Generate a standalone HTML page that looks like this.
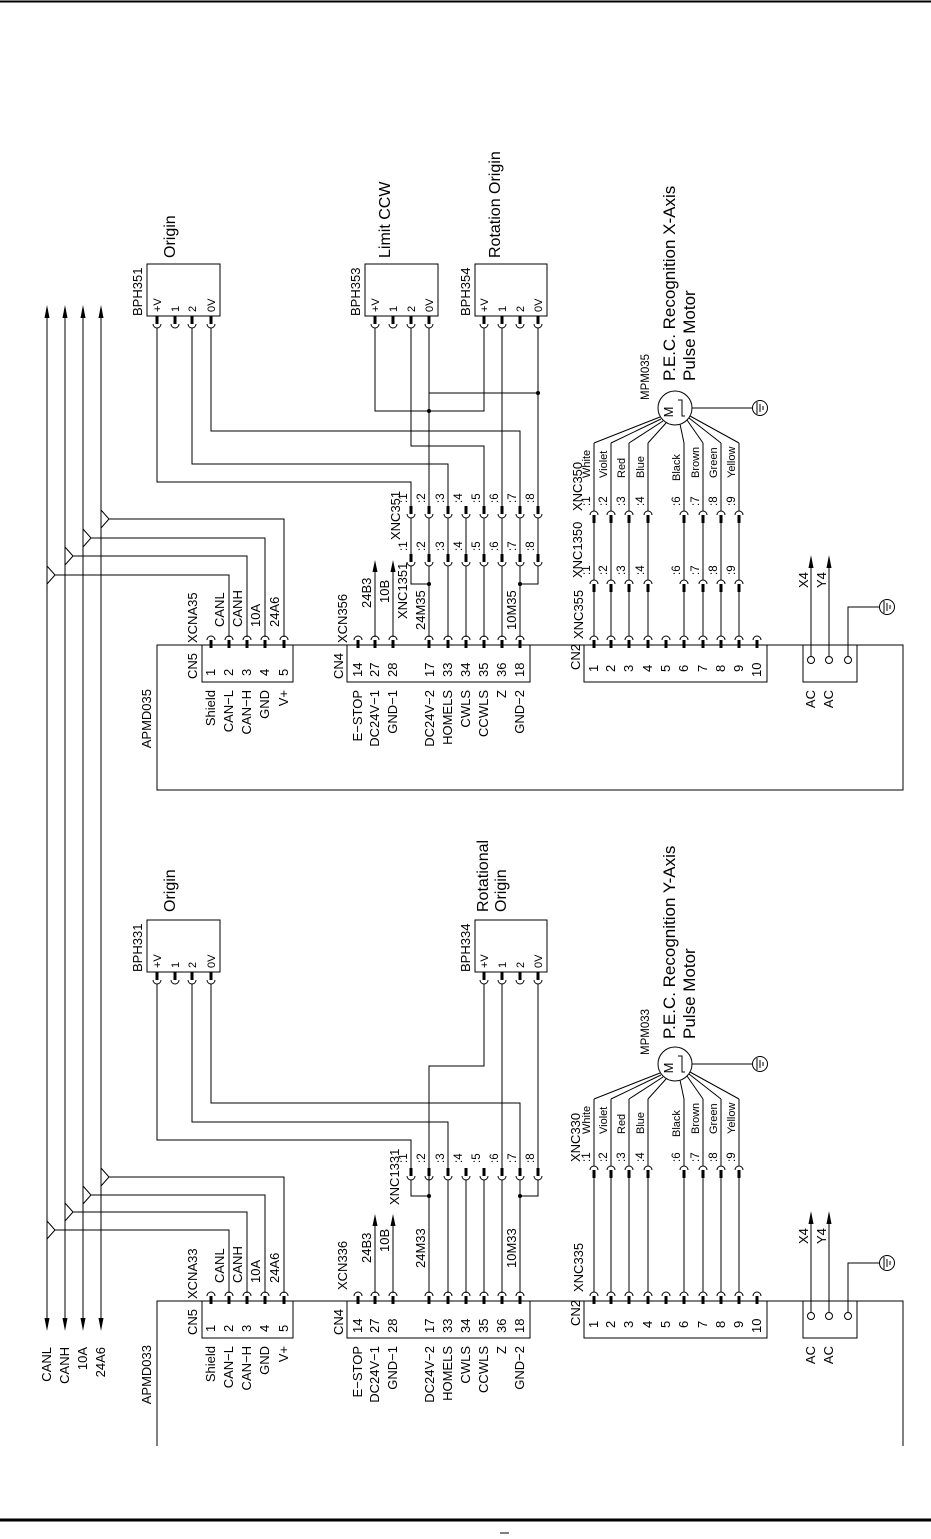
<!DOCTYPE html>
<html><head><meta charset="utf-8"><style>
html,body{margin:0;padding:0;background:#fff;}
svg{display:block;}
text{font-family:"Liberation Sans",sans-serif;fill:#000;}
.s{font-size:11.5px;}
.m{font-size:13px;}
.w{font-size:11px;}
.b{font-size:16px;}
.t{font-size:17px;}
.ln{stroke:#000;stroke-width:1;fill:none;}
.g{stroke:#555;stroke-width:1;fill:none;}
.bx{stroke:#000;stroke-width:1;fill:none;}
</style></head><body>
<svg width="931" height="1539" viewBox="0 0 931 1539" xmlns="http://www.w3.org/2000/svg">
<defs>
<g id="pu"><path d="M-4 0 A4 4 0 0 1 4 0" stroke="#000" fill="none" stroke-width="1"/><line x1="0" y1="0" x2="0" y2="8" stroke="#000" stroke-width="3"/></g>
<g id="pd"><path d="M-4 0 A4 4 0 0 0 4 0" stroke="#000" fill="none" stroke-width="1"/><line x1="0" y1="0" x2="0" y2="-8" stroke="#000" stroke-width="3"/></g>
<g id="gnd"><circle cx="0" cy="0" r="7.5" fill="#fff" stroke="#000"/><line x1="-3" y1="-6" x2="-3" y2="6" stroke="#000"/><line x1="0" y1="-4" x2="0" y2="4" stroke="#000"/><line x1="3" y1="-2" x2="3" y2="2" stroke="#000"/></g>
<g id="mot"><circle cx="0" cy="0" r="17" fill="#fff" stroke="#000"/><text class="m" transform="rotate(-90 -2 4)" x="-2" y="4" text-anchor="middle">M</text><path d="M3 -8 H7 V8 H10" class="ln"/></g>
</defs>

<line x1="0" y1="1.5" x2="931" y2="1.5" stroke="#000" stroke-width="2"/>
<line x1="0" y1="1520" x2="931" y2="1520" stroke="#000" stroke-width="3"/>
<line x1="500" y1="1533" x2="509" y2="1533" stroke="#000" stroke-width="1"/>

<g class="ln">
<path d="M47 310 V1326 M65 310 V1326 M83 310 V1326 M101 310 V1326"/>
<path d="M47 566 L55 575 L47 584 M55 575 H229 V637"/>
<path d="M65 547 L73 556 L65 565 M73 556 H247 V637"/>
<path d="M83 529 L91 538 L83 547 M91 538 H265 V637"/>
<path d="M101 510 L109 519 L101 528 M109 519 H284 V637"/>
<path d="M47 1221 L55 1230 L47 1239 M55 1230 H229 V1293"/>
<path d="M65 1203 L73 1212 L65 1221 M73 1212 H247 V1293"/>
<path d="M83 1186 L91 1195 L83 1204 M91 1195 H265 V1293"/>
<path d="M101 1168 L109 1177 L101 1186 M109 1177 H284 V1293"/>
</g>
<g fill="#000">
<polygon points="44.5,318 47,305 49.5,318"/><polygon points="62.5,318 65,305 67.5,318"/><polygon points="80.5,318 83,305 85.5,318"/><polygon points="98.5,318 101,305 103.5,318"/>
<polygon points="44.5,1318 47,1331 49.5,1318"/><polygon points="62.5,1318 65,1331 67.5,1318"/><polygon points="80.5,1318 83,1331 85.5,1318"/><polygon points="98.5,1318 101,1331 103.5,1318"/>
</g>
<text class="m" transform="rotate(-90 51 1347)" x="51" y="1347" text-anchor="end">CANL</text>
<text class="m" transform="rotate(-90 69 1347)" x="69" y="1347" text-anchor="end">CANH</text>
<text class="m" transform="rotate(-90 87 1347)" x="87" y="1347" text-anchor="end">10A</text>
<text class="m" transform="rotate(-90 105 1347)" x="105" y="1347" text-anchor="end">24A6</text>

<rect class="bx" x="147" y="264" width="73" height="52"/>
<rect class="bx" x="365" y="264" width="73" height="52"/>
<rect class="bx" x="475" y="264" width="72" height="52"/>
<text class="b" transform="rotate(-90 175 258)" x="175" y="258">Origin</text>
<text class="b" transform="rotate(-90 390 258)" x="390" y="258">Limit CCW</text>
<text class="b" transform="rotate(-90 500 258)" x="500" y="258">Rotation Origin</text>
<text class="m" transform="rotate(-90 142 316)" x="142" y="316">BPH351</text>
<text class="m" transform="rotate(-90 360 316)" x="360" y="316">BPH353</text>
<text class="m" transform="rotate(-90 470 316)" x="470" y="316">BPH354</text>
<g class="w">
<text transform="rotate(-90 161 312)" x="161" y="312">+V</text><text transform="rotate(-90 179 312)" x="179" y="312">1</text><text transform="rotate(-90 196 312)" x="196" y="312">2</text><text transform="rotate(-90 215 312)" x="215" y="312">0V</text>
<text transform="rotate(-90 379 312)" x="379" y="312">+V</text><text transform="rotate(-90 397 312)" x="397" y="312">1</text><text transform="rotate(-90 415 312)" x="415" y="312">2</text><text transform="rotate(-90 433 312)" x="433" y="312">0V</text>
<text transform="rotate(-90 488 312)" x="488" y="312">+V</text><text transform="rotate(-90 506 312)" x="506" y="312">1</text><text transform="rotate(-90 524 312)" x="524" y="312">2</text><text transform="rotate(-90 542 312)" x="542" y="312">0V</text>
</g>
<g>
<use href="#pd" x="157" y="324"/><use href="#pd" x="175" y="324"/><use href="#pd" x="192" y="324"/><use href="#pd" x="211" y="324"/>
<use href="#pd" x="375" y="324"/><use href="#pd" x="393" y="324"/><use href="#pd" x="411" y="324"/><use href="#pd" x="429" y="324"/>
<use href="#pd" x="484" y="324"/><use href="#pd" x="502" y="324"/><use href="#pd" x="520" y="324"/><use href="#pd" x="538" y="324"/>
</g>
<g class="ln">
<path d="M157 328 V482 H411 V506"/>
<path d="M192 328 V464 H448 V506"/>
<path d="M211 328 V431 H520 V506"/>
<path d="M375 328 V411 H484 V328"/>
<path d="M411 328 V446 H484 V506"/>
<path d="M429 328 V506 M429 393 H538"/>
<path d="M502 328 V506 M538 328 V506"/>
<path d="M411 518 V554 M429 518 V554 M448 518 V554 M466 518 V554 M484 518 V554 M502 518 V554 M520 518 V554 M538 518 V554"/>
<path d="M411 566 V584 H429 M538 566 V584 H520"/>
<path d="M429 566 V637 M448 566 V637 M466 566 V637 M484 566 V637 M502 566 V637 M520 566 V637"/>
<path d="M375 637 V568 M393 637 V568"/>
</g>
<g fill="#000"><circle cx="429" cy="411" r="2"/><circle cx="538" cy="393" r="2"/><circle cx="429" cy="584" r="2"/><circle cx="520" cy="584" r="2"/>
<polygon points="372.5,572 375,560 377.5,572"/><polygon points="390.5,572 393,560 395.5,572"/></g>
<g>
<use href="#pd" x="411" y="514"/><use href="#pd" x="429" y="514"/><use href="#pd" x="448" y="514"/><use href="#pd" x="466" y="514"/><use href="#pd" x="484" y="514"/><use href="#pd" x="502" y="514"/><use href="#pd" x="520" y="514"/><use href="#pd" x="538" y="514"/>
<use href="#pd" x="411" y="562"/><use href="#pd" x="429" y="562"/><use href="#pd" x="448" y="562"/><use href="#pd" x="466" y="562"/><use href="#pd" x="484" y="562"/><use href="#pd" x="502" y="562"/><use href="#pd" x="520" y="562"/><use href="#pd" x="538" y="562"/>
</g>
<g class="s">
<text transform="rotate(-90 407 503)" x="407" y="503">:1</text><text transform="rotate(-90 425 503)" x="425" y="503">:2</text><text transform="rotate(-90 444 503)" x="444" y="503">:3</text><text transform="rotate(-90 462 503)" x="462" y="503">:4</text><text transform="rotate(-90 480 503)" x="480" y="503">:5</text><text transform="rotate(-90 498 503)" x="498" y="503">:6</text><text transform="rotate(-90 516 503)" x="516" y="503">:7</text><text transform="rotate(-90 534 503)" x="534" y="503">:8</text>
<text transform="rotate(-90 407 551)" x="407" y="551">:1</text><text transform="rotate(-90 425 551)" x="425" y="551">:2</text><text transform="rotate(-90 444 551)" x="444" y="551">:3</text><text transform="rotate(-90 462 551)" x="462" y="551">:4</text><text transform="rotate(-90 480 551)" x="480" y="551">:5</text><text transform="rotate(-90 498 551)" x="498" y="551">:6</text><text transform="rotate(-90 516 551)" x="516" y="551">:7</text><text transform="rotate(-90 534 551)" x="534" y="551">:8</text>
</g>
<text class="m" transform="rotate(-90 400 540)" x="400" y="540">XNC351</text>
<text class="m" transform="rotate(-90 407 619)" x="407" y="619">XNC1351</text>
<text class="m" transform="rotate(-90 371 608)" x="371" y="608">24B3</text>
<text class="m" transform="rotate(-90 389 603)" x="389" y="603">10B</text>
<text class="m" transform="rotate(-90 425 630)" x="425" y="630">24M35</text>
<text class="m" transform="rotate(-90 516 630)" x="516" y="630">10M35</text>
<text class="m" transform="rotate(-90 197 643)" x="197" y="643">XCNA35</text>
<text class="m" transform="rotate(-90 347 643)" x="347" y="643">XCN356</text>
<g class="m">
<text transform="rotate(-90 224 627)" x="224" y="627">CANL</text><text transform="rotate(-90 242 627)" x="242" y="627">CANH</text><text transform="rotate(-90 260 627)" x="260" y="627">10A</text><text transform="rotate(-90 279 627)" x="279" y="627">24A6</text>
</g>
<rect class="bx" x="157" y="645" width="746" height="145"/>
<text class="m" transform="rotate(-90 151 689)" x="151" y="689" text-anchor="end">APMD035</text>

<use href="#mot" x="675" y="408"/>
<line class="ln" x1="692" y1="408" x2="753" y2="408"/>
<use href="#gnd" x="760" y="408"/>
<text class="s" transform="rotate(-90 649 400)" x="649" y="400">MPM035</text>
<text class="t" transform="rotate(-90 675 381)" x="675" y="381">P.E.C. Recognition X-Axis</text>
<text class="t" transform="rotate(-90 695 381)" x="695" y="381">Pulse Motor</text>
<g class="ln">
<path d="M660 417 L594 443 M661 419 L611 443 M663 421 L629 443 M666 423 L648 443 M680 424 L684 443 M687 420 L703 443 M689 418 L721 443 M690 416 L739 443"/>
<path d="M594 443 V511 M611 443 V511 M629 443 V511 M648 443 V511 M684 443 V511 M703 443 V511 M721 443 V511 M739 443 V511"/>
<path d="M594 523 V580 M611 523 V580 M629 523 V580 M648 523 V580 M684 523 V580 M703 523 V580 M721 523 V580 M739 523 V580"/>
<path d="M594 592 V636 M611 592 V636 M629 592 V636 M648 592 V636 M684 592 V636 M703 592 V636 M721 592 V636 M739 592 V636"/>
</g>
<g>
<use href="#pu" x="594" y="515"/><use href="#pu" x="611" y="515"/><use href="#pu" x="629" y="515"/><use href="#pu" x="648" y="515"/><use href="#pu" x="684" y="515"/><use href="#pu" x="703" y="515"/><use href="#pu" x="721" y="515"/><use href="#pu" x="739" y="515"/>
<use href="#pu" x="594" y="584"/><use href="#pu" x="611" y="584"/><use href="#pu" x="629" y="584"/><use href="#pu" x="648" y="584"/><use href="#pu" x="684" y="584"/><use href="#pu" x="703" y="584"/><use href="#pu" x="721" y="584"/><use href="#pu" x="739" y="584"/>
</g>
<g class="w">
<text transform="rotate(-90 590 478)" x="590" y="478">White</text><text transform="rotate(-90 607 478)" x="607" y="478">Violet</text><text transform="rotate(-90 625 478)" x="625" y="478">Red</text><text transform="rotate(-90 644 478)" x="644" y="478">Blue</text><text transform="rotate(-90 680 481)" x="680" y="481">Black</text><text transform="rotate(-90 699 478)" x="699" y="478">Brown</text><text transform="rotate(-90 717 478)" x="717" y="478">Green</text><text transform="rotate(-90 735 478)" x="735" y="478">Yellow</text>
</g>
<g class="s">
<text transform="rotate(-90 590 506)" x="590" y="506">:1</text><text transform="rotate(-90 607 506)" x="607" y="506">:2</text><text transform="rotate(-90 625 506)" x="625" y="506">:3</text><text transform="rotate(-90 644 506)" x="644" y="506">:4</text><text transform="rotate(-90 680 506)" x="680" y="506">:6</text><text transform="rotate(-90 699 506)" x="699" y="506">:7</text><text transform="rotate(-90 717 506)" x="717" y="506">:8</text><text transform="rotate(-90 735 506)" x="735" y="506">:9</text>
<text transform="rotate(-90 590 575)" x="590" y="575">:1</text><text transform="rotate(-90 607 575)" x="607" y="575">:2</text><text transform="rotate(-90 625 575)" x="625" y="575">:3</text><text transform="rotate(-90 644 575)" x="644" y="575">:4</text><text transform="rotate(-90 680 575)" x="680" y="575">:6</text><text transform="rotate(-90 699 575)" x="699" y="575">:7</text><text transform="rotate(-90 717 575)" x="717" y="575">:8</text><text transform="rotate(-90 735 575)" x="735" y="575">:9</text>
</g>
<text class="m" transform="rotate(-90 582 511)" x="582" y="511">XNC350</text>
<text class="m" transform="rotate(-90 582 578)" x="582" y="578">XNC1350</text>
<text class="m" transform="rotate(-90 583 639)" x="583" y="639">XNC355</text>

<rect class="bx" x="147" y="920" width="73" height="52"/>
<rect class="bx" x="475" y="920" width="72" height="52"/>
<text class="b" transform="rotate(-90 175 912)" x="175" y="912">Origin</text>
<text class="b" transform="rotate(-90 488 912)" x="488" y="912">Rotational</text>
<text class="b" transform="rotate(-90 506 912)" x="506" y="912">Origin</text>
<text class="m" transform="rotate(-90 142 972)" x="142" y="972">BPH331</text>
<text class="m" transform="rotate(-90 470 972)" x="470" y="972">BPH334</text>
<g class="w">
<text transform="rotate(-90 161 968)" x="161" y="968">+V</text><text transform="rotate(-90 179 968)" x="179" y="968">1</text><text transform="rotate(-90 196 968)" x="196" y="968">2</text><text transform="rotate(-90 215 968)" x="215" y="968">0V</text>
<text transform="rotate(-90 488 968)" x="488" y="968">+V</text><text transform="rotate(-90 506 968)" x="506" y="968">1</text><text transform="rotate(-90 524 968)" x="524" y="968">2</text><text transform="rotate(-90 542 968)" x="542" y="968">0V</text>
</g>
<g>
<use href="#pd" x="157" y="980"/><use href="#pd" x="175" y="980"/><use href="#pd" x="192" y="980"/><use href="#pd" x="211" y="980"/>
<use href="#pd" x="484" y="980"/><use href="#pd" x="502" y="980"/><use href="#pd" x="520" y="980"/><use href="#pd" x="538" y="980"/>
</g>
<g class="ln">
<path d="M157 984 V1140 H411 V1168"/>
<path d="M192 984 V1122 H448 V1168"/>
<path d="M211 984 V1103 H520 V1168"/>
<path d="M484 984 V1066 H429 V1293"/>
<path d="M502 984 V1168 M538 984 V1168"/>
<path d="M411 1180 V1196 H429 M538 1180 V1196 H520"/>
<path d="M448 1180 V1293 M466 1180 V1293 M484 1180 V1293 M502 1180 V1293 M520 1180 V1293"/>
<path d="M375 1293 V1222 M393 1293 V1222"/>
</g>
<g fill="#000"><circle cx="429" cy="1196" r="2"/><circle cx="520" cy="1196" r="2"/>
<polygon points="372.5,1226 375,1214 377.5,1226"/><polygon points="390.5,1226 393,1214 395.5,1226"/></g>
<g>
<use href="#pd" x="411" y="1176"/><use href="#pd" x="429" y="1176"/><use href="#pd" x="448" y="1176"/><use href="#pd" x="466" y="1176"/><use href="#pd" x="484" y="1176"/><use href="#pd" x="502" y="1176"/><use href="#pd" x="520" y="1176"/><use href="#pd" x="538" y="1176"/>
</g>
<g class="s">
<text transform="rotate(-90 407 1163)" x="407" y="1163">:1</text><text transform="rotate(-90 425 1163)" x="425" y="1163">:2</text><text transform="rotate(-90 444 1163)" x="444" y="1163">:3</text><text transform="rotate(-90 462 1163)" x="462" y="1163">:4</text><text transform="rotate(-90 480 1163)" x="480" y="1163">:5</text><text transform="rotate(-90 498 1163)" x="498" y="1163">:6</text><text transform="rotate(-90 516 1163)" x="516" y="1163">:7</text><text transform="rotate(-90 534 1163)" x="534" y="1163">:8</text>
</g>
<text class="m" transform="rotate(-90 399 1205)" x="399" y="1205">XNC1331</text>
<text class="m" transform="rotate(-90 371 1263)" x="371" y="1263">24B3</text>
<text class="m" transform="rotate(-90 389 1252)" x="389" y="1252">10B</text>
<text class="m" transform="rotate(-90 425 1268)" x="425" y="1268">24M33</text>
<text class="m" transform="rotate(-90 516 1268)" x="516" y="1268">10M33</text>
<text class="m" transform="rotate(-90 197 1299)" x="197" y="1299">XCNA33</text>
<text class="m" transform="rotate(-90 347 1290)" x="347" y="1290">XCN336</text>
<g class="m">
<text transform="rotate(-90 224 1283)" x="224" y="1283">CANL</text><text transform="rotate(-90 242 1283)" x="242" y="1283">CANH</text><text transform="rotate(-90 260 1283)" x="260" y="1283">10A</text><text transform="rotate(-90 279 1283)" x="279" y="1283">24A6</text>
</g>
<path class="bx" d="M157 1446 V1301 H903 V1446"/>
<text class="m" transform="rotate(-90 151 1345)" x="151" y="1345" text-anchor="end">APMD033</text>

<use href="#mot" x="675" y="1064"/>
<line class="ln" x1="692" y1="1064" x2="753" y2="1064"/>
<use href="#gnd" x="760" y="1064"/>
<text class="s" transform="rotate(-90 649 1055)" x="649" y="1055">MPM033</text>
<text class="t" transform="rotate(-90 675 1039)" x="675" y="1039">P.E.C. Recognition Y-Axis</text>
<text class="t" transform="rotate(-90 695 1039)" x="695" y="1039">Pulse Motor</text>
<g class="ln">
<path d="M660 1073 L594 1099 M661 1075 L611 1099 M663 1077 L629 1099 M666 1079 L648 1099 M680 1080 L684 1099 M687 1076 L703 1099 M689 1074 L721 1099 M690 1072 L739 1099"/>
<path d="M594 1099 V1166 M611 1099 V1166 M629 1099 V1166 M648 1099 V1166 M684 1099 V1166 M703 1099 V1166 M721 1099 V1166 M739 1099 V1166"/>
<path d="M594 1178 V1292 M611 1178 V1292 M629 1178 V1292 M648 1178 V1292 M684 1178 V1292 M703 1178 V1292 M721 1178 V1292 M739 1178 V1292"/>
</g>
<g>
<use href="#pu" x="594" y="1170"/><use href="#pu" x="611" y="1170"/><use href="#pu" x="629" y="1170"/><use href="#pu" x="648" y="1170"/><use href="#pu" x="684" y="1170"/><use href="#pu" x="703" y="1170"/><use href="#pu" x="721" y="1170"/><use href="#pu" x="739" y="1170"/>
</g>
<g class="w">
<text transform="rotate(-90 590 1134)" x="590" y="1134">White</text><text transform="rotate(-90 607 1134)" x="607" y="1134">Violet</text><text transform="rotate(-90 625 1134)" x="625" y="1134">Red</text><text transform="rotate(-90 644 1134)" x="644" y="1134">Blue</text><text transform="rotate(-90 680 1137)" x="680" y="1137">Black</text><text transform="rotate(-90 699 1134)" x="699" y="1134">Brown</text><text transform="rotate(-90 717 1134)" x="717" y="1134">Green</text><text transform="rotate(-90 735 1134)" x="735" y="1134">Yellow</text>
</g>
<g class="s">
<text transform="rotate(-90 590 1162)" x="590" y="1162">:1</text><text transform="rotate(-90 607 1162)" x="607" y="1162">:2</text><text transform="rotate(-90 625 1162)" x="625" y="1162">:3</text><text transform="rotate(-90 644 1162)" x="644" y="1162">:4</text><text transform="rotate(-90 680 1162)" x="680" y="1162">:6</text><text transform="rotate(-90 699 1162)" x="699" y="1162">:7</text><text transform="rotate(-90 717 1162)" x="717" y="1162">:8</text><text transform="rotate(-90 735 1162)" x="735" y="1162">:9</text>
</g>
<text class="m" transform="rotate(-90 580 1162)" x="580" y="1162">XNC330</text>
<text class="m" transform="rotate(-90 583 1292)" x="583" y="1292">XNC335</text>

<g id="conn">
<rect class="bx" x="202" y="645" width="91" height="37" fill="#fff"/>
<rect class="bx" x="347" y="645" width="183" height="37" fill="#fff"/>
<rect class="bx" x="584" y="645" width="183" height="37" fill="#fff"/>
<rect class="bx" x="803" y="645" width="54" height="37" fill="#fff"/>
<use href="#pu" x="211" y="640"/><use href="#pu" x="229" y="640"/><use href="#pu" x="247" y="640"/><use href="#pu" x="265" y="640"/><use href="#pu" x="284" y="640"/>
<use href="#pu" x="358" y="640"/><use href="#pu" x="375" y="640"/><use href="#pu" x="393" y="640"/><use href="#pu" x="429" y="640"/><use href="#pu" x="448" y="640"/><use href="#pu" x="466" y="640"/><use href="#pu" x="484" y="640"/><use href="#pu" x="502" y="640"/><use href="#pu" x="520" y="640"/>
<use href="#pu" x="594" y="640"/><use href="#pu" x="611" y="640"/><use href="#pu" x="629" y="640"/><use href="#pu" x="648" y="640"/><use href="#pu" x="666" y="640"/><use href="#pu" x="684" y="640"/><use href="#pu" x="703" y="640"/><use href="#pu" x="721" y="640"/><use href="#pu" x="739" y="640"/><use href="#pu" x="757" y="640"/>
<g class="m">
<text transform="rotate(-90 197 679)" x="197" y="679">CN5</text>
<text transform="rotate(-90 215 676)" x="215" y="676">1</text><text transform="rotate(-90 233 676)" x="233" y="676">2</text><text transform="rotate(-90 251 676)" x="251" y="676">3</text><text transform="rotate(-90 269 676)" x="269" y="676">4</text><text transform="rotate(-90 288 676)" x="288" y="676">5</text>
<text transform="rotate(-90 343 679)" x="343" y="679">CN4</text>
<text transform="rotate(-90 362 677)" x="362" y="677">14</text><text transform="rotate(-90 379 677)" x="379" y="677">27</text><text transform="rotate(-90 397 677)" x="397" y="677">28</text><text transform="rotate(-90 434 677)" x="434" y="677">17</text><text transform="rotate(-90 452 677)" x="452" y="677">33</text><text transform="rotate(-90 470 677)" x="470" y="677">34</text><text transform="rotate(-90 488 677)" x="488" y="677">35</text><text transform="rotate(-90 506 677)" x="506" y="677">36</text><text transform="rotate(-90 524 677)" x="524" y="677">18</text>
<text transform="rotate(-90 580 670)" x="580" y="670">CN2</text>
<text transform="rotate(-90 598 672)" x="598" y="672">1</text><text transform="rotate(-90 615 672)" x="615" y="672">2</text><text transform="rotate(-90 633 672)" x="633" y="672">3</text><text transform="rotate(-90 652 672)" x="652" y="672">4</text><text transform="rotate(-90 670 672)" x="670" y="672">5</text><text transform="rotate(-90 688 672)" x="688" y="672">6</text><text transform="rotate(-90 707 672)" x="707" y="672">7</text><text transform="rotate(-90 725 672)" x="725" y="672">8</text><text transform="rotate(-90 743 672)" x="743" y="672">9</text><text transform="rotate(-90 761 677)" x="761" y="677">10</text>
<text transform="rotate(-90 215 690)" x="215" y="690" text-anchor="end">Shield</text><text transform="rotate(-90 233 690)" x="233" y="690" text-anchor="end">CAN−L</text><text transform="rotate(-90 251 690)" x="251" y="690" text-anchor="end">CAN−H</text><text transform="rotate(-90 269 690)" x="269" y="690" text-anchor="end">GND</text><text transform="rotate(-90 288 690)" x="288" y="690" text-anchor="end">V+</text>
<text transform="rotate(-90 362 690)" x="362" y="690" text-anchor="end">E−STOP</text><text transform="rotate(-90 379 690)" x="379" y="690" text-anchor="end">DC24V−1</text><text transform="rotate(-90 397 690)" x="397" y="690" text-anchor="end">GND−1</text><text transform="rotate(-90 434 690)" x="434" y="690" text-anchor="end">DC24V−2</text><text transform="rotate(-90 452 690)" x="452" y="690" text-anchor="end">HOMELS</text><text transform="rotate(-90 470 690)" x="470" y="690" text-anchor="end">CWLS</text><text transform="rotate(-90 488 690)" x="488" y="690" text-anchor="end">CCWLS</text><text transform="rotate(-90 506 690)" x="506" y="690" text-anchor="end">Z</text><text transform="rotate(-90 524 690)" x="524" y="690" text-anchor="end">GND−2</text>
<text transform="rotate(-90 815 690)" x="815" y="690" text-anchor="end">AC</text><text transform="rotate(-90 833 690)" x="833" y="690" text-anchor="end">AC</text>
<text transform="rotate(-90 808 588)" x="808" y="588">X4</text><text transform="rotate(-90 826 588)" x="826" y="588">Y4</text>
</g>
<g class="ln"><path d="M811 656 V566 M829 656 V566 M848 656 V607 H880"/></g>
<g fill="#000"><polygon points="808.5,568 811,555 813.5,568"/><polygon points="826.5,568 829,555 831.5,568"/></g>
<circle cx="811" cy="660" r="3.5" fill="#fff" stroke="#000"/><circle cx="829" cy="660" r="3.5" fill="#fff" stroke="#000"/><circle cx="848" cy="660" r="3.5" fill="#fff" stroke="#000"/>
<use href="#gnd" x="887" y="607"/>
</g>
<use href="#conn" x="0" y="656"/>
</svg>
</body></html>
